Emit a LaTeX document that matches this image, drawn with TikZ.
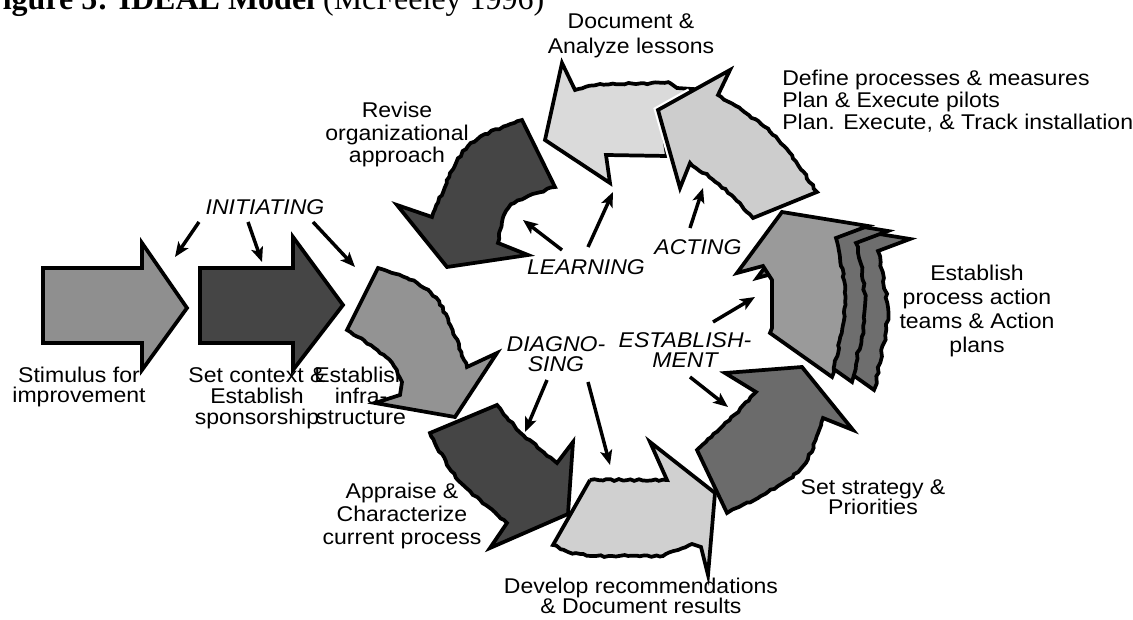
\documentclass[tikz,border=0pt]{standalone}
\usepackage{fontspec}
\setmainfont{Liberation Sans}[FakeStretch=1.08]
\newfontfamily\titlefont{Liberation Serif}
\usetikzlibrary{arrows.meta,decorations.pathmorphing}
\newcommand\lblsize[1]{\fontsize{16pt}{#1}\selectfont}
\definecolor{cStim}{HTML}{8F8F8F}
\definecolor{cDark}{HTML}{454545}
\definecolor{cInfra}{HTML}{939393}
\definecolor{cDev}{HTML}{D0D0D0}
\definecolor{cStrat}{HTML}{6B6B6B}
\definecolor{cTeams}{HTML}{9A9A9A}
\definecolor{cShadow}{HTML}{6E6E6E}
\definecolor{cDef}{HTML}{CDCDCD}
\definecolor{cDoc}{HTML}{DADADA}
\begin{document}
\begin{tikzpicture}[x=0.75pt,y=-0.75pt,
  shp/.style={draw=black,line width=2.8pt,line join=miter},
  jag/.style={decoration={random steps,segment length=3pt,amplitude=0.7pt}},
  jagbig/.style={decoration={random steps,segment length=4pt,amplitude=1.1pt}},
  lbl/.style={align=center,anchor=base,inner sep=0pt,font={\lblsize{15.75pt}}},
  phase/.style={align=center,anchor=base,inner sep=0pt,font={\lblsize{15.5pt}\itshape}},
  conn/.style={line width=2.6pt,-{Stealth[length=11pt,width=9pt,inset=2.5pt]}},
]
\pgfmathsetseed{7}
\useasboundingbox (0,0) rectangle (1133,620);
\fill[white] (0,0) rectangle (1133,620);

% title
\node[anchor=base west,inner sep=0pt,font={\titlefont\fontsize{24pt}{26pt}\selectfont}] (title) at (-17,10) {\textbf{Figure 5: IDEAL Model} (McFeeley 1996)};

% initiating arrows
\filldraw[shp,fill=cStim] (43,268) -- (142,268) -- (142,243) -- (187,308) -- (142,370) -- (142,343) -- (43,343) -- cycle;
\filldraw[shp,fill=cDark] (200,268) -- (293,268) -- (293,237) -- (343,305) -- (293,370) -- (293,343) -- (200,343) -- cycle;

\node[lbl,font={\lblsize{15pt}}] (stim) at (79,403) {Stimulus for\\improvement};
\node[lbl] (ctx) at (257,425) {Set context \&\\Establish\\sponsorship};
\node[lbl] (infra) at (361,425) {Establish\\infra-\\structure};

% establish infrastructure
\filldraw[shp,fill=cInfra] (378,268) -- (347,330) decorate[jag]{.. controls (390,358) .. (402,382)} -- (400,395) -- (375,403) -- (455,417) -- (497,353) -- (467,367) decorate[jag]{.. controls (437,288) .. (378,268)} -- cycle;

% appraise
\filldraw[shp,fill=cDark] (497,405) -- (430,433) decorate[jag]{.. controls (455,480) .. (507,523)} -- (490,548) -- (568,514) -- (573,442) -- (557,463) decorate[jag]{.. controls (520,433) .. (497,405)} -- cycle;

% develop
\filldraw[shp,fill=cDev] (590,480) -- (553,545) decorate[jag]{-- (568,552) -- (592,556) -- (663,556) -- (692,544)} -- (701,547) -- (708,575) -- (715,493) -- (650,442) -- (667,480) decorate[jag]{-- (590,480)} -- cycle;

% set strategy
\filldraw[shp,fill=cStrat] (725,373) -- (802,367) -- (853,430) -- (823,418) decorate[jag]{.. controls (805,474) .. (727,513)} -- (697,450) decorate[jag]{.. controls (730,420) .. (756,392)} -- cycle;

% establish teams (two shadows + main)
\begin{scope}[shift={(42,13)}]
\filldraw[shp,fill=cShadow] (782,212) -- (868,226) -- (836,238) decorate[jagbig]{.. controls (849,300) .. (832,377)} -- (770,333) -- (772,328) -- (772,280) -- (763,266) -- (737,273) -- cycle;
\end{scope}
\begin{scope}[shift={(20,5)}]
\filldraw[shp,fill=cShadow] (782,212) -- (868,226) -- (836,238) decorate[jagbig]{.. controls (849,300) .. (832,377)} -- (770,333) -- (772,328) -- (772,280) -- (763,266) -- (737,273) -- cycle;
\end{scope}
\filldraw[shp,fill=cTeams] (782,212) -- (868,226) -- (836,238) decorate[jag]{.. controls (849,300) .. (832,377)} -- (770,333) -- (772,328) -- (772,280) -- (763,266) -- (737,273) -- cycle;

% document
\filldraw[shp,fill=cDoc] (562,63) -- (575,90) decorate[jag]{-- (600,84) -- (670,83)} -- (677,88) -- (692,89) -- (660,110) -- (667,156) -- (606,155) -- (610,183) -- (545,140) -- cycle;

% define (white halo on left edges)
\draw[white,line width=6pt] (690,92) -- (658,110) -- (680,188);
\filldraw[shp,fill=cDef] (730,70) -- (718,95) decorate[jag]{.. controls (776,132) .. (817,192)} -- (753,218) decorate[jag]{.. controls (725,188) .. (690,163)} -- (680,188) -- (658,110) -- cycle;

% revise
\filldraw[shp,fill=cDark] (522,120) -- (555,187) decorate[jag]{.. controls (505,203) .. (498,243)} -- (528,255) -- (447,267) -- (397,205) -- (432,217) decorate[jag]{.. controls (463,141) .. (522,120)} -- cycle;

% labels (anchor = baseline of last line)
\node[lbl,font={\lblsize{18.75pt}}] (doc) at (631,54) {Document \&\\Analyze lessons};
\node[lbl,font={\lblsize{17pt}}] (rev) at (397,163) {Revise\\organizational\\approach};
\node[lbl,align=left,anchor=base west,font={\lblsize{16.5pt}}] (def) at (782,130) {Define processes \& measures\\Plan \& Execute pilots\\Plan. Execute, \& Track installation};
\node[lbl,font={\lblsize{18.2pt}}] (teams) at (977,353) {Establish\\process action\\teams \& Action\\plans};
\node[lbl,font={\lblsize{15pt}}] (strat) at (873,515) {Set strategy \&\\Priorities};
\node[lbl] (dev) at (641,614) {Develop recommendations\\\& Document results};
\node[lbl,font={\lblsize{17pt}}] (appr) at (402,544) {Appraise \&\\Characterize\\current process};

% phase labels
\node[phase] (init) at (265,215) {INITIATING};
\node[phase] (learn) at (586,275) {LEARNING};
\node[phase] (act) at (698,255) {ACTING};
\node[phase] (estab) at (685,368) {ESTABLISH-\\MENT};
\node[phase] (diag) at (556,372) {DIAGNO-\\SING};

% connector end points
\coordinate (i1s) at (199,222); \coordinate (i1e) at (175,257);
\coordinate (i2s) at (248,222); \coordinate (i2e) at (262,262);
\coordinate (i3s) at (313,222); \coordinate (i3e) at (355,267);
\coordinate (l1s) at (562,250); \coordinate (l1e) at (523,220);
\coordinate (l2s) at (588,247); \coordinate (l2e) at (613,192);
\coordinate (a1s) at (690,228); \coordinate (a1e) at (703,188);
\coordinate (e1s) at (713,322); \coordinate (e1e) at (755,297);
\coordinate (e2s) at (690,377); \coordinate (e2e) at (728,407);
\coordinate (d1s) at (547,380); \coordinate (d1e) at (525,432);
\coordinate (d2s) at (588,382); \coordinate (d2e) at (610,465);

\draw[conn] (i1s) -- (i1e);
\draw[conn] (i2s) -- (i2e);
\draw[conn] (i3s) -- (i3e);
\draw[conn] (l1s) -- (l1e);
\draw[conn] (l2s) -- (l2e);
\draw[conn] (a1s) -- (a1e);
\draw[conn] (e1s) -- (e1e);
\draw[conn] (e2s) -- (e2e);
\draw[conn] (d1s) -- (d1e);
\draw[conn] (d2s) -- (d2e);
\end{tikzpicture}
\end{document}
